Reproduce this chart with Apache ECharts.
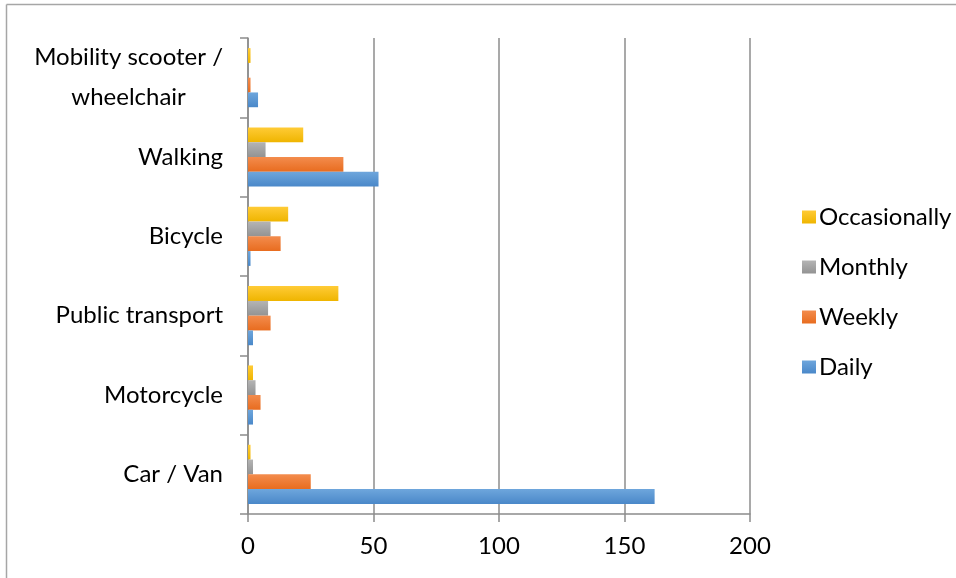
<!DOCTYPE html>
<html>
<head>
<meta charset="utf-8">
<script src="https://cdn.jsdelivr.net/npm/echarts@6/dist/echarts.min.js"></script>
<style>
html,body{margin:0;padding:0;background:#fff;}
#chart{width:956px;height:578px;}
</style>
</head>
<body>
<div id="chart"></div>
<script>
const categories = ['Car / Van', 'Motorcycle', 'Public transport', 'Bicycle', 'Walking', 'Mobility scooter / wheelchair'];
const seriesNames = ['Occasionally', 'Monthly', 'Weekly', 'Daily'];
const occasionally = [1, 2, 36, 16, 22, 1];
const monthly = [2, 3, 8, 9, 7, 0];
const weekly = [25, 5, 9, 13, 38, 1];
const daily = [162, 2, 2, 1, 52, 4];
const xTicks = [0, 50, 100, 150, 200];

const FONT = 'Lato, "Open Sans", sans-serif';
const grad = (a, b) => new echarts.graphic.LinearGradient(0, 0, 0, 1, [{offset: 0, color: a}, {offset: 1, color: b}]);
const colors = [
  grad('#ffcb36', '#efb500'),
  grad('#b4b4b4', '#939393'),
  grad('#f38c4d', '#e86c1f'),
  grad('#6ea6dc', '#4a88c9')
];
const values = [occasionally, monthly, weekly, daily];

const chart = echarts.init(document.getElementById('chart'));
chart.setOption({
  animation: false,
  backgroundColor: '#fff',
  textStyle: {fontFamily: FONT},
  grid: {left: 248, right: 206, top: 38, bottom: 64, containLabel: false},
  legend: {
    orient: 'vertical',
    left: 797,
    top: 200,
    data: seriesNames,
    itemWidth: 14,
    itemHeight: 13,
    itemGap: 26,
    icon: 'rect',
    textStyle: {fontFamily: FONT, fontSize: 24, color: '#000', padding: [0, 0, 0, -2]}
  },
  xAxis: {
    type: 'value',
    min: xTicks[0],
    max: xTicks[xTicks.length - 1],
    interval: 50,
    axisLine: {show: true, lineStyle: {color: '#8c8c8c', width: 1.5}},
    axisTick: {show: true, length: 8, lineStyle: {color: '#8c8c8c', width: 1.5}},
    axisLabel: {fontFamily: FONT, fontSize: 24, color: '#000', margin: 20},
    splitLine: {show: true, lineStyle: {color: '#8c8c8c', width: 1.5}}
  },
  yAxis: {
    type: 'category',
    data: categories,
    axisLine: {show: true, lineStyle: {color: '#8c8c8c', width: 1.5}},
    axisTick: {show: true, length: 8, alignWithLabel: false, lineStyle: {color: '#8c8c8c', width: 1.5}},
    axisLabel: {
      fontFamily: FONT, fontSize: 24, color: '#000', margin: 25, lineHeight: 40,
      formatter: function (v) {
        if (v.indexOf('Mobility') === 0) {
          return '{c|Mobility scooter /}\n{c|wheelchair}';
        }
        return v;
      },
      rich: {c: {align: 'center', fontFamily: FONT, fontSize: 24, color: '#000', lineHeight: 40}}
    }
  },
  series: seriesNames.map((n, i) => ({
    name: n,
    type: 'bar',
    data: values[i],
    barGap: '0%',
    barCategoryGap: '25.5%',
    itemStyle: {color: colors[i]},
    emphasis: {disabled: true}
  })),
  graphic: [
    {type: 'line', shape: {x1: 6.5, y1: 4.5, x2: 956, y2: 4.5}, style: {stroke: '#a6a6a6', lineWidth: 1.5}},
    {type: 'line', shape: {x1: 6.5, y1: 4.5, x2: 6.5, y2: 578}, style: {stroke: '#a6a6a6', lineWidth: 1.5}}
  ]
});
</script>
</body>
</html>
